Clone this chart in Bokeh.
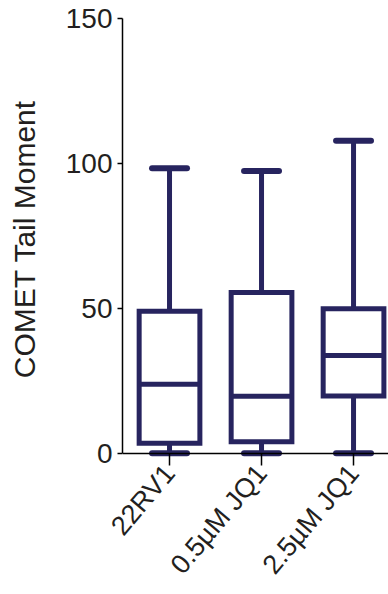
import math
from bokeh.plotting import figure
from bokeh.models import Range1d, FixedTicker, ColumnDataSource, LinearAxis
from bokeh.embed import file_html
from bokeh.resources import INLINE

categories = ["22RV1", "0.5µM JQ1", "2.5µM JQ1"]
whisker_low = [0, 0, 0]
q1 = [3.4, 3.9, 19.7]
median = [23.8, 19.6, 33.7]
q3 = [49.0, 55.4, 49.8]
whisker_high = [98.3, 97.4, 107.8]
y_ticks = [0, 50, 100, 150]

NAVY = "#27245f"
TEXT = "#231f20"
box_w = 0.66
cap_w = 0.38

xs = [i + 0.5 for i in range(len(categories))]
src = ColumnDataSource(dict(
    x=xs,
    left=[v - box_w / 2 for v in xs],
    right=[v + box_w / 2 for v in xs],
    cl=[v - cap_w / 2 for v in xs],
    cr=[v + cap_w / 2 for v in xs],
    lo=whisker_low, q1=q1, med=median, q3=q3, hi=whisker_high,
))

p = figure(width=388, height=594, output_backend="svg", toolbar_location=None,
           x_range=Range1d(-0.011, 2.88), y_range=Range1d(-2.2, 150),
           min_border_left=122, min_border_right=0, min_border_top=18,
           min_border_bottom=135)
p.outline_line_color = None
p.xgrid.visible = False
p.ygrid.visible = False

# whiskers
p.segment(x0="x", x1="x", y0="q3", y1="hi", source=src, line_color=NAVY, line_width=5)
p.segment(x0="x", x1="x", y0="q1", y1="lo", source=src, line_color=NAVY, line_width=5)
# caps
p.segment(x0="cl", x1="cr", y0="hi", y1="hi", source=src, line_color=NAVY, line_width=6, line_cap="round")
p.segment(x0="cl", x1="cr", y0="lo", y1="lo", source=src, line_color=NAVY, line_width=6, line_cap="round")
# boxes
p.quad(left="left", right="right", bottom="q1", top="q3", source=src,
       fill_color="white", line_color=NAVY, line_width=5, line_join="miter")
p.segment(x0="left", x1="right", y0="med", y1="med", source=src, line_color=NAVY, line_width=5)

# y axis
ya = p.yaxis[0]
ya.ticker = FixedTicker(ticks=y_ticks)
ya.bounds = (0, 150)
ya.minor_tick_line_color = None
ya.major_tick_in = 0
ya.major_tick_out = 5
ya.axis_line_color = "black"
ya.axis_line_width = 1.5
ya.major_tick_line_width = 1.5
ya.major_label_text_font = "Liberation Sans"
ya.major_label_text_font_size = "28px"
ya.major_label_text_color = TEXT
ya.major_label_standoff = 5
ya.axis_label = "COMET Tail Moment"
ya.axis_label_text_font = "Liberation Sans"
ya.axis_label_text_font_size = "30px"
ya.axis_label_text_font_style = "normal"
ya.axis_label_text_color = TEXT
ya.axis_label_standoff = 22

# x axis (ticks + labels) at the frame bottom
xa = p.xaxis[0]
xa.ticker = FixedTicker(ticks=xs)
xa.major_label_overrides = {v: c for v, c in zip(xs, categories)}
xa.major_label_orientation = 0.87
xa.minor_tick_line_color = None
xa.major_tick_in = 6
xa.major_tick_out = 6
xa.axis_line_color = None
xa.major_tick_line_color = "black"
xa.major_tick_line_width = 1.5
xa.major_label_text_font = "Liberation Sans"
xa.major_label_text_font_size = "27px"
xa.major_label_text_font_style = "normal"
xa.major_label_text_color = TEXT
xa.major_label_standoff = 3

# x axis line at y = 0
xline = LinearAxis(fixed_location=0, ticker=FixedTicker(ticks=[]),
                   major_label_text_font_size="0px", major_label_standoff=0,
                   major_tick_in=0, major_tick_out=0,
                   major_tick_line_color=None, minor_tick_line_color=None,
                   axis_line_color="black", axis_line_width=1.5)
p.add_layout(xline, "below")

open("out.html", "w").write(file_html(p, INLINE))
